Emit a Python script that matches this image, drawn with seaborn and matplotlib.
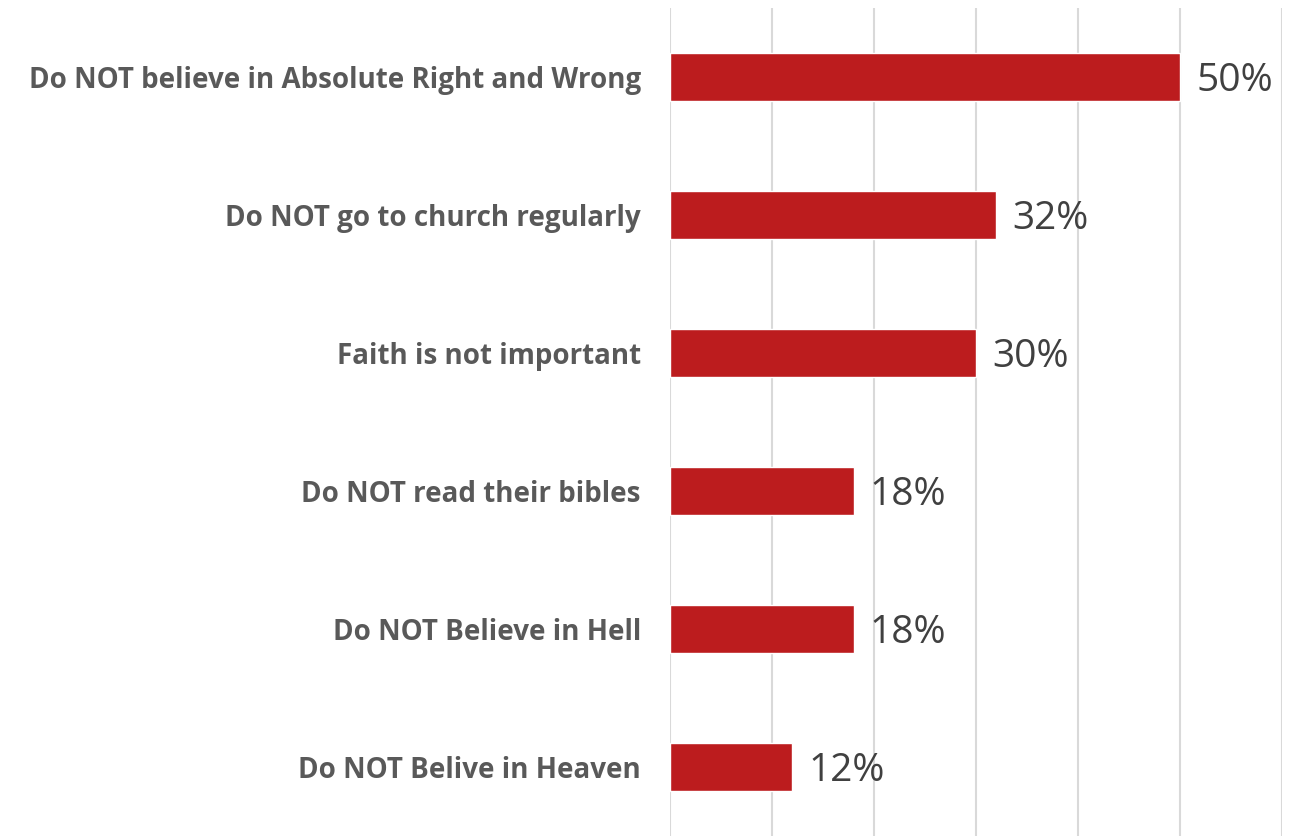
import matplotlib
matplotlib.use("Agg")
import matplotlib.pyplot as plt
import seaborn as sns
import pandas as pd

categories = [
    "Do NOT believe in Absolute Right and Wrong",
    "Do NOT go to church regularly",
    "Faith is not important",
    "Do NOT read their bibles",
    "Do NOT Believe in Hell",
    "Do NOT Belive in Heaven",
]
values = [50, 32, 30, 18, 18, 12]

df = pd.DataFrame({"reason": categories, "pct": values})

sns.set_theme(style="white")
plt.rcParams["font.family"] = ["Open Sans", "DejaVu Sans"]

fig = plt.figure(figsize=(12.97, 8.36), dpi=100)
ax = fig.add_axes([670 / 1297, 0.0, 612 / 1297, 828 / 836])

sns.barplot(data=df, x="pct", y="reason", orient="h", color="#BC1C1E",
            width=0.35, saturation=1, ax=ax)

ax.set_xlim(0, 60)
ax.set_ylim(5.5, -0.5)
ax.set_xticks(range(0, 61, 10))
ax.set_xticklabels([])
ax.xaxis.grid(True, color="#D9D9D9", linewidth=1.5)
ax.set_axisbelow(True)
for s in ax.spines.values():
    s.set_visible(False)
ax.set_xlabel("")
ax.set_ylabel("")
ax.tick_params(axis="y", length=0, pad=21)
for lbl in ax.get_yticklabels():
    lbl.set_fontweight("bold")
    lbl.set_fontsize(20)
    lbl.set_color("#595959")

for i, v in enumerate(values):
    ax.text(v + 1.6, i + 0.03, f"{v}%", va="center", ha="left",
            fontsize=28, color="#404040")

fig.savefig("out.png", dpi=100)
